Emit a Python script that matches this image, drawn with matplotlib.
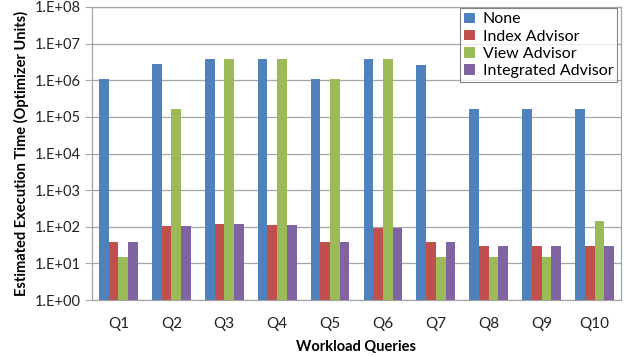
import matplotlib
matplotlib.use("Agg")
import matplotlib.pyplot as plt
import numpy as np

# Excel 2007 default series palette
BLUE = "#4F81BD"
RED = "#C0504D"
GREEN = "#9BBB59"
PURPLE = "#8064A2"
GRID = "#A6A6A6"

queries = ["Q1", "Q2", "Q3", "Q4", "Q5", "Q6", "Q7", "Q8", "Q9", "Q10"]
series_names = ["None", "Index Advisor", "View Advisor", "Integrated Advisor"]

none_cost = [1.05e6, 2.8e6, 3.7e6, 3.7e6, 1.05e6, 3.7e6, 2.6e6, 1.6e5, 1.6e5, 1.6e5]
index_cost = [38, 105, 118, 112, 38, 90, 38, 30, 30, 30]
view_cost = [15, 1.6e5, 3.7e6, 3.7e6, 1.05e6, 3.7e6, 15, 15, 15, 145]
integrated_cost = [38, 105, 118, 112, 38, 90, 38, 30, 30, 30]

ytick_vals = [1e0, 1e1, 1e2, 1e3, 1e4, 1e5, 1e6, 1e7, 1e8]
ytick_labels = ["1.E+00", "1.E+01", "1.E+02", "1.E+03", "1.E+04",
                "1.E+05", "1.E+06", "1.E+07", "1.E+08"]

plt.rcParams["font.family"] = ["Lato", "DejaVu Sans"]

fig = plt.figure(figsize=(6.37, 3.56), dpi=100)
ax = fig.add_axes([92 / 637, 1 - 300 / 356, 529 / 637, 293 / 356])

x = np.arange(len(queries))
w = 0.183
series = [none_cost, index_cost, view_cost, integrated_cost]
colors = [BLUE, RED, GREEN, PURPLE]
for i, (vals, col, name) in enumerate(zip(series, colors, series_names)):
    ax.bar(x + (i - 1.5) * w, vals, width=w, color=col, label=name, zorder=3)

ax.set_yscale("log")
ax.set_ylim(1, 1e8)
ax.set_xlim(-0.5, len(queries) - 0.5)
ax.set_yticks(ytick_vals)
ax.set_yticklabels(ytick_labels, fontsize=10.5, color="#222222")
ax.yaxis.set_minor_locator(matplotlib.ticker.NullLocator())
ax.set_xticks(x)
ax.set_xticklabels(queries, fontsize=11, color="#222222")
ax.tick_params(axis="x", length=0, pad=12)
ax.tick_params(axis="y", length=5, width=0.8, color=GRID, pad=3)

ax.grid(True, axis="y", color=GRID, linewidth=0.9, zorder=0)
ax.set_axisbelow(True)
for spine in ax.spines.values():
    spine.set_color(GRID)
    spine.set_linewidth(0.9)

ax.set_xlabel("Workload Queries", fontsize=10.5, fontweight="bold", labelpad=7)
ax.set_ylabel("Estimated Execution Time (Optimizer Units)", fontsize=10.5,
              fontweight="bold", labelpad=4)

leg = ax.legend(loc="upper right", bbox_to_anchor=(0.993, 0.995), fontsize=11.5,
                frameon=True, fancybox=False, handlelength=0.65, handleheight=0.65,
                handletextpad=0.5, labelspacing=0.2, borderpad=0.25,
                borderaxespad=0)
leg.get_frame().set_edgecolor("#666666")
leg.get_frame().set_linewidth(0.8)

fig.savefig("out.png", dpi=100)
